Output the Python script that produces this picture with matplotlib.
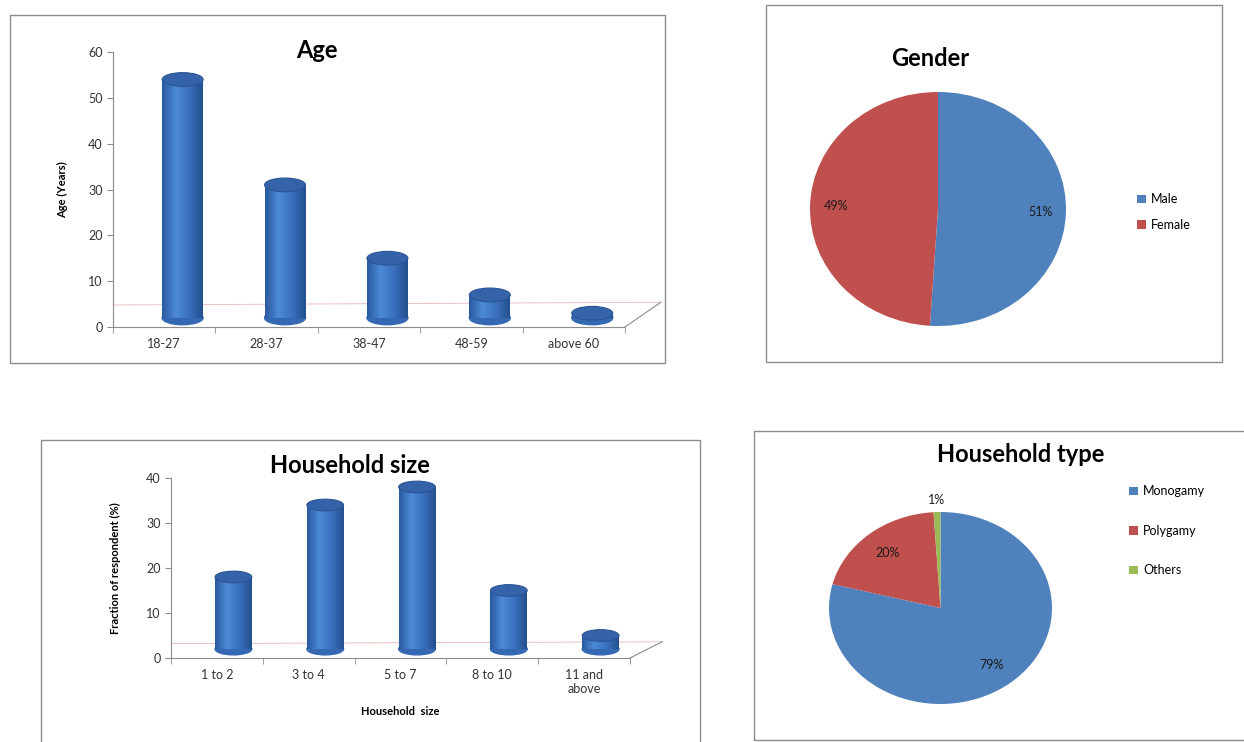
import numpy as np
import matplotlib
matplotlib.use("Agg")
import matplotlib.pyplot as plt
from matplotlib.patches import Ellipse, Rectangle
from matplotlib.lines import Line2D

plt.rcParams["font.family"] = ["Lato", "DejaVu Sans"]

# data
age_groups = ["18-27", "28-37", "38-47", "48-59", "above 60"]
age_values = [54, 31, 15, 7, 3]
age_ticks = [0, 10, 20, 30, 40, 50, 60]

hh_sizes = ["1 to 2", "3 to 4", "5 to 7", "8 to 10", "11 and\nabove"]
hh_values = [18, 34, 38, 15, 5]
hh_ticks = [0, 10, 20, 30, 40]

gender_labels = ["Male", "Female"]
gender_share = [51, 49]

type_labels = ["Monogamy", "Polygamy", "Others"]
type_share = [79, 20, 1]

BLUE = "#4F81BD"
RED = "#C0504D"
GREEN = "#9BBB59"
W, H = 1244, 742


def fig_rect(x0, y0, x1, y1):
    # pixel box -> figure fraction [left, bottom, width, height]
    return [x0 / W, 1 - y1 / H, (x1 - x0) / W, (y1 - y0) / H]


def panel_box(fig, x0, y0, x1, y1):
    fig.patches.append(Rectangle((x0 / W, 1 - y1 / H), (x1 - x0) / W, (y1 - y0) / H,
                                 transform=fig.transFigure, fill=False,
                                 edgecolor="#8c8c8c", lw=1.0))


def cylinders(ax, values, floor, cap, shift=0.18, width=0.4):
    cmap = matplotlib.colors.LinearSegmentedColormap.from_list(
        "cyl", ["#2a5aa0", "#4d8ad6", "#3a70bd", "#24508f"])
    grad = np.linspace(0, 1, 64).reshape(1, -1)
    for i, v in enumerate(values):
        x = i + shift
        bars = ax.bar(x, v - floor, bottom=floor, width=width, color="#3a70bd",
                      edgecolor="none", zorder=3)
        bar = bars[0]
        im = ax.imshow(grad, cmap=cmap, aspect="auto", zorder=3,
                       extent=(x - width / 2, x + width / 2, floor, v))
        im.set_clip_path(bar)
        ax.add_patch(Ellipse((x, floor), width, cap, color="#3568b3", zorder=2.9))
        ax.add_patch(Ellipse((x, v), width, cap, facecolor="#3463aa",
                             edgecolor="#2a5595", lw=0.8, zorder=4))


def bar_axes(ax, cats, values, ticks, ymax, floor, cap):
    ax.set_xlim(-0.5, len(cats) - 0.5)
    ax.set_ylim(0, ymax)
    cylinders(ax, values, floor, cap)
    for s in ["top", "right"]:
        ax.spines[s].set_visible(False)
    for s in ["left", "bottom"]:
        ax.spines[s].set_color("#8c8c8c")
    ax.set_yticks(ticks)
    ax.set_xticks(range(len(cats)))
    ax.set_xticklabels(cats)
    ax.set_xticks(np.arange(-0.5, len(cats)), minor=True)
    ax.tick_params(axis="x", which="major", length=0, pad=8, labelsize=9, labelcolor="#333333")
    ax.tick_params(axis="x", which="minor", length=4, color="#8c8c8c")
    ax.tick_params(axis="y", length=4, color="#8c8c8c", labelsize=9, labelcolor="#333333")
    # 3-D floor edges
    ax.add_line(Line2D([1.0, 1.07], [0, 0.09], transform=ax.transAxes, color="#8c8c8c",
                       lw=0.8, clip_on=False))
    ax.add_line(Line2D([0, 1.07], [0.08, 0.09], transform=ax.transAxes, color="#e8b8b8",
                       lw=0.6, clip_on=False, zorder=1))


fig = plt.figure(figsize=(W / 100, H / 100), dpi=100)

# Age
panel_box(fig, 10, 15, 665, 363)
ax1 = fig.add_axes(fig_rect(113, 52, 625, 327))
bar_axes(ax1, age_groups, age_values, age_ticks, 60, 2.0, 3.0)
ax1.set_ylabel("Age (Years)", fontsize=8, fontweight="bold", labelpad=14)
fig.text(317 / W, 1 - 50 / H, "Age", fontsize=17, fontweight="bold", ha="center", va="center")

# Household size
panel_box(fig, 41, 440, 700, 760)
ax3 = fig.add_axes(fig_rect(171, 478, 630, 658))
bar_axes(ax3, hh_sizes, hh_values, hh_ticks, 40, 2.0, 2.6)
ax3.set_ylabel("Fraction of respondent (%)", fontsize=8, fontweight="bold", labelpad=18)
ax3.set_xlabel("Household  size", fontsize=8, fontweight="bold", labelpad=8)
fig.text(350 / W, 1 - 466 / H, "Household size", fontsize=17, fontweight="bold",
         ha="center", va="center")

# Gender pie
panel_box(fig, 766, 5, 1222, 362)
ax2 = fig.add_axes(fig_rect(810, 92, 1066, 326))
w2, t2, a2 = ax2.pie(gender_share, colors=[BLUE, RED], startangle=90, counterclock=False,
                     autopct="%d%%", pctdistance=0.8,
                     textprops={"fontsize": 9, "color": "#1a1a1a"})
ax2.set_aspect("auto")
ax2.set_xlim(-1, 1)
ax2.set_ylim(-1, 1)
fig.text(930 / W, 1 - 58 / H, "Gender", fontsize=17, fontweight="bold", ha="center", va="center")
ax2.legend(w2, gender_labels, loc="upper left", bbox_to_anchor=(1126 / W, 1 - 182 / H),
           bbox_transform=fig.transFigure, frameon=False, fontsize=9,
           handlelength=0.7, handleheight=0.7, handletextpad=0.4, labelspacing=1.1)

# Household type pie
panel_box(fig, 754, 431, 1250, 740)
ax4 = fig.add_axes(fig_rect(829, 512, 1052, 704))
w4, t4, a4 = ax4.pie(type_share, colors=[BLUE, RED, GREEN], startangle=90, counterclock=False,
                     autopct="%d%%", pctdistance=0.75,
                     textprops={"fontsize": 9, "color": "#1a1a1a"})
ax4.set_aspect("auto")
ax4.set_xlim(-1, 1)
ax4.set_ylim(-1, 1)
# move the tiny slice's label outside the pie
a4[2].set_position((a4[2].get_position()[0] * 1.6, 1.12))
fig.text(1021 / W, 1 - 455 / H, "Household type", fontsize=17, fontweight="bold",
         ha="center", va="center")
ax4.legend(w4, type_labels, loc="upper left", bbox_to_anchor=(1118 / W, 1 - 474 / H),
           bbox_transform=fig.transFigure, frameon=False, fontsize=9,
           handlelength=0.7, handleheight=0.7, handletextpad=0.4, labelspacing=2.2)

fig.savefig("out.png", dpi=100)
